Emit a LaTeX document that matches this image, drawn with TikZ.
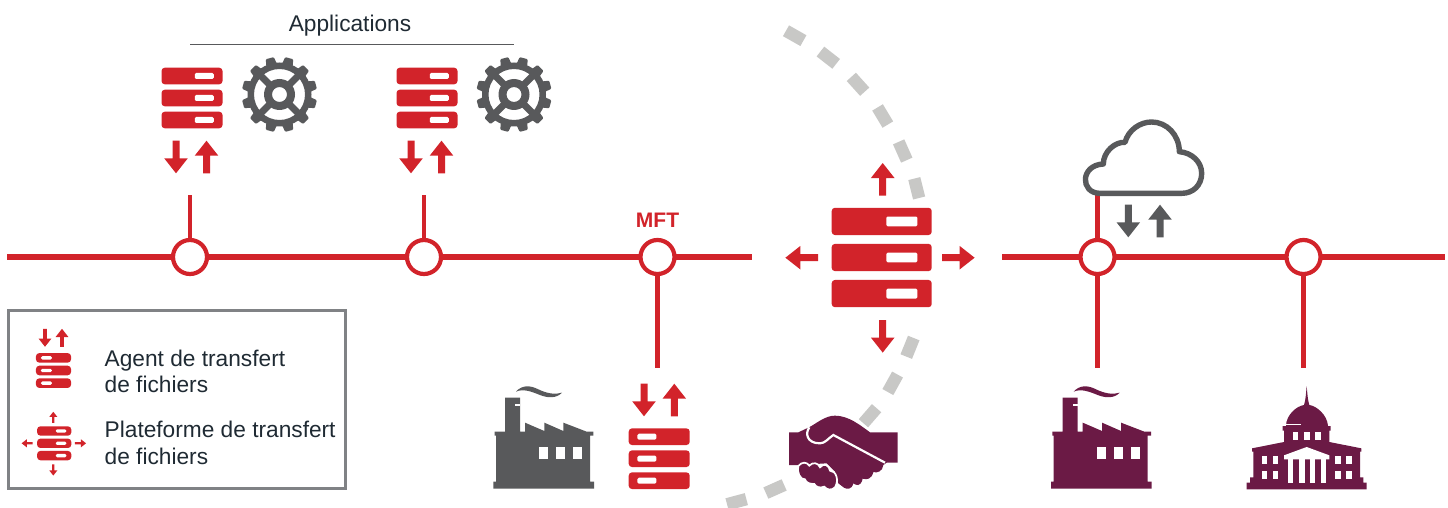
\documentclass[tikz,border=0pt]{standalone}
\usepackage{fontspec}
\setmainfont{Liberation Sans}
\definecolor{iconRed}{HTML}{D2232A}
\definecolor{iconGrey}{HTML}{58595B}
\definecolor{iconPurple}{HTML}{6B1A45}
\definecolor{dashGrey}{HTML}{C8C8C6}
\definecolor{boxGrey}{HTML}{808285}
\definecolor{txt}{HTML}{1F2A33}
\tikzset{
  busline/.style={draw=iconRed,line width=5.4pt},
  tapline/.style={draw=iconRed,line width=4.6pt},
  hub/.style={circle,draw=iconRed,fill=white,line width=4.2pt,minimum size=34pt,inner sep=0pt,outer sep=0pt},
  dashmark/.style={draw=dashGrey,line width=12.4pt},
  labeltext/.style={anchor=base west,inner sep=0pt,text=txt,font=\fontsize{22.7}{22.7}\selectfont},
  pics/rack/.style={code={
    \fill[iconRed,rounded corners=3.2pt] (-30.5,-30.3) rectangle (30.5,-13.7);
    \fill[iconRed,rounded corners=3.2pt] (-30.5,-8.3) rectangle (30.5,8.3);
    \fill[iconRed,rounded corners=3.2pt] (-30.5,13.7) rectangle (30.5,30.3);
    \foreach \yy in {-22,0,22}{\fill[white,rounded corners=1.4pt] (2.8,\yy-3) rectangle (21.8,\yy+3);}
  }},
  pics/arrow/.style={code={
    \fill[#1] (0,-16.3) -- (11.8,-1.3) -- (3.5,-1.3) -- (3.5,16.3) -- (-3.5,16.3) -- (-3.5,-1.3) -- (-11.8,-1.3) -- cycle;
  }},
  pics/gear/.style={code={
    \foreach \a in {15,45,...,345}{
      \fill[iconGrey,rotate=\a,rounded corners=1pt] (28,-5.8) -- (37.6,-4.2) -- (37.6,4.2) -- (28,5.8) -- cycle;}
    \fill[iconGrey,even odd rule] (0,0) circle (32) (0,0) circle (25.5);
    \foreach \a in {45,135,225,315}{
      \fill[iconGrey,rotate=\a] (10,-3.4) rectangle (28,3.4);}
    \fill[iconGrey,even odd rule] (0,0) circle (15.5) (0,0) circle (7.5);
  }},
  pics/factory/.style={code={
    \fill[#1] (108,65) .. controls (125,45) and (150,45) .. (175,58) .. controls (200,70) and (225,75) .. (246,68)
       .. controls (230,85) and (205,85) .. (180,75) .. controls (155,65) and (130,55) .. (108,65) -- cycle;
    \fill[#1] (75,83) -- (120,83) -- (120,185) -- (135,185) -- (135,158) -- (193,183) -- (193,158) -- (250,183) -- (250,158) -- (320,185)
       -- (340,185) -- (340,197) -- (330,197) -- (330,335) -- (342,335) -- (342,356) -- (40,356) -- (40,335) -- (48,335) -- (48,197) -- (44,197) -- (44,185) -- (75,185) -- cycle;
    \fill[white] (105,102) rectangle (120,107);
    \foreach \xx in {178,229,280}{\fill[white] (\xx,230) rectangle (\xx+27,267);}
  }},
  pics/capitol/.style={code={
    \fill[iconPurple] (620,328) -- (620,308) -- (630,308) -- (630,292) -- (640,292) -- (640,215) -- (636,215) -- (636,205) -- (732,186)
       -- (732,152) -- (728,152) -- (728,138) -- (738,138) .. controls (738,105) and (770,78) .. (792,75) .. controls (797,60) and (798,40) .. (800,18)
       .. controls (802,40) and (803,60) .. (808,75) .. controls (830,78) and (862,105) .. (864,138) -- (872,138) -- (872,152) -- (868,152) -- (868,186)
       -- (964,205) -- (964,215) -- (960,215) -- (960,292) -- (970,292) -- (970,308) -- (980,308) -- (980,328) -- cycle;
    \fill[white] (738,131) rectangle (782,135);
    \foreach \xx in {758,793,826}{\fill[white] (\xx,157) rectangle (\xx+17,180);}
    \fill[white] (732,226) -- (800,201) -- (868,226) -- (868,238) -- (732,238) -- cycle;
    \foreach \xx in {744,778,810,842}{\fill[white] (\xx,238) rectangle (\xx+16,308);}
    \foreach \xx in {665,698,886,919}{
      \fill[white] (\xx,228) rectangle (\xx+17,252);
      \fill[white] (\xx,274) rectangle (\xx+17,298);}
  }},
  pics/handshake/.style={code={
    \fill[iconPurple] (57,97) -- (85,97) -- (117,82) .. controls (140,70) and (165,47) .. (195,47) .. controls (235,47) and (270,75) .. (300,97)
       -- (383,97) -- (383,188) -- (350,188) -- (340,195) .. controls (338,215) and (320,220) .. (310,216)
       .. controls (305,238) and (290,240) .. (278,236) .. controls (272,262) and (258,256) .. (250,250)
       .. controls (245,270) and (230,268) .. (222,263) -- (205,250) -- (195,215) -- (170,190) -- (85,195) -- (57,195) -- cycle;
    \draw[white,line width=2.2pt] (118,82) .. controls (105,100) and (110,130) .. (150,130) .. controls (165,130) and (175,115) .. (190,105) -- (345,188);
    \draw[white,line width=1.7pt,fill=iconPurple] (85,198) .. controls (95,185) and (110,185) .. (118,197) .. controls (128,185) and (145,188) .. (150,202)
       .. controls (160,188) and (178,195) .. (180,212) .. controls (198,212) and (208,240) .. (195,262) .. controls (185,272) and (170,270) .. (163,260)
       .. controls (150,265) and (138,262) .. (133,252) .. controls (118,252) and (108,248) .. (105,238) .. controls (90,240) and (80,215) .. (85,198) -- cycle;
  }},
}
\begin{document}
\begin{tikzpicture}[x=1pt,y=-1pt]
\useasboundingbox (0,0) rectangle (1448,508);

% dashed arc
\foreach \xx/\yy/\aa in {794.7/35.7/-29.5,828.3/57.7/-38,858/84.3/-48,882.7/116/-59,902.7/151/-66,916.7/188.3/-76,
    910/347.3/68,892.7/383.3/61,870/415.7/49,775/489/24,736.7/501.7/15}{
  \draw[dashmark,shift={(\xx,\yy)},rotate=\aa] (-10,0) -- (10,0);
}

% title
\node[inner sep=0pt,anchor=base,text=txt,font=\fontsize{22.7}{22.7}\selectfont] (apps) at (350,32) {Applications};
\coordinate (appsL) at (190,44);
\coordinate (appsR) at (514,44);
\draw[iconGrey,line width=0.7pt] (appsL) -- (appsR);

% bus hubs
\coordinate (p1) at (190,257);
\coordinate (p2) at (424,257);
\coordinate (p3) at (657.5,257);
\coordinate (p4) at (1097.5,257);
\coordinate (p5) at (1303.5,257);
\coordinate (la) at (7,257);
\coordinate (lb) at (752,257);
\coordinate (lc) at (1002,257);
\coordinate (ld) at (1445,257);
\draw[busline] (la) -- (lb);
\draw[busline] (lc) -- (ld);

% taps
\coordinate (t1) at (190,195);
\coordinate (t2) at (424,195);
\coordinate (t3) at (657.5,368);
\coordinate (t4) at (1097.5,368);
\coordinate (t5) at (1303.5,368);
\coordinate (t6) at (1097.5,193);
\draw[tapline] (t1) -- (p1);
\draw[tapline] (t2) -- (p2);
\draw[tapline] (p3) -- (t3);
\draw[tapline] (p4) -- (t4);
\draw[tapline] (p5) -- (t5);
\draw[tapline] (t6) -- (p4);
\node[hub] (n1) at (p1) {};
\node[hub] (n2) at (p2) {};
\node[hub] (n3) at (p3) {};
\node[hub] (n4) at (p4) {};
\node[hub] (n5) at (p5) {};

\node[inner sep=0pt,anchor=base,text=iconRed,font=\fontsize{21}{21}\bfseries\selectfont] (mft) at (657.5,227) {MFT};

% application racks
\pic at (192,98) {rack};
\pic[rotate=180] at (176,157) {arrow=iconRed};
\pic at (206.5,157) {arrow=iconRed};
\pic at (279.5,94.5) {gear};
\pic at (427,98) {rack};
\pic[rotate=180] at (411,157) {arrow=iconRed};
\pic at (441.5,157) {arrow=iconRed};
\pic at (514,94.5) {gear};

% central platform
\pic[scale=1.64] at (881.7,257.5) {rack};
\pic at (882.7,179.3) {arrow=iconRed};
\pic[rotate=180] at (882.7,336.3) {arrow=iconRed};
\pic[rotate=90] at (801.7,257.7) {arrow=iconRed};
\pic[rotate=-90] at (958.3,257.7) {arrow=iconRed};

% factory and agent
\pic[scale=1/3] at (480,370) {factory=iconGrey};
\pic[xscale=-1] at (659.2,458.7) {rack};
\pic[rotate=180] at (644,400) {arrow=iconRed};
\pic at (674.3,400) {arrow=iconRed};

% handshake
\pic[scale=1/3] at (770,400) {handshake};

% right side
\pic[scale=1/3] at (1037.7,370) {factory=iconPurple};
\pic[scale=1/3] at (1040,380) {capitol};

% cloud
\draw[iconGrey,line width=5.4pt,fill=white,line join=round,shift={(1070,110)},scale=1/3]
  (90,250) .. controls (30,250) and (30,165) .. (100,162)
  .. controls (100,125) and (135,95) .. (165,97)
  .. controls (175,60) and (210,36) .. (245,36)
  .. controls (290,36) and (328,75) .. (328,125)
  .. controls (365,128) and (395,155) .. (395,190)
  .. controls (395,225) and (370,250) .. (335,250) -- cycle;
\pic[rotate=180] at (1128.3,221) {arrow=iconGrey};
\pic at (1160,221) {arrow=iconGrey};

% legend
\node[draw=boxGrey,line width=3pt,minimum width=337pt,minimum height=178pt,inner sep=0pt] (legend) at (177,399.7) {};
\pic[xscale=-.574,yscale=.574] at (53.5,370.5) {rack};
\pic[rotate=180,scale=.55] at (45,337.8) {arrow=iconRed};
\pic[scale=.55] at (62,337.8) {arrow=iconRed};
\pic[scale=.56] at (54.2,443.3) {rack};
\pic[scale=.34] at (53.3,417.3) {arrow=iconRed};
\pic[rotate=180,scale=.34] at (53.3,470) {arrow=iconRed};
\pic[rotate=90,scale=.34] at (27.2,443.3) {arrow=iconRed};
\pic[rotate=-90,scale=.34] at (80.5,443.3) {arrow=iconRed};
\node[labeltext] (l1) at (104.5,366) {Agent de transfert};
\node[labeltext] (l2) at (104.5,392.3) {de fichiers};
\node[labeltext] (l3) at (104.5,437.3) {Plateforme de transfert};
\node[labeltext] (l4) at (104.5,464) {de fichiers};
\end{tikzpicture}
\end{document}
